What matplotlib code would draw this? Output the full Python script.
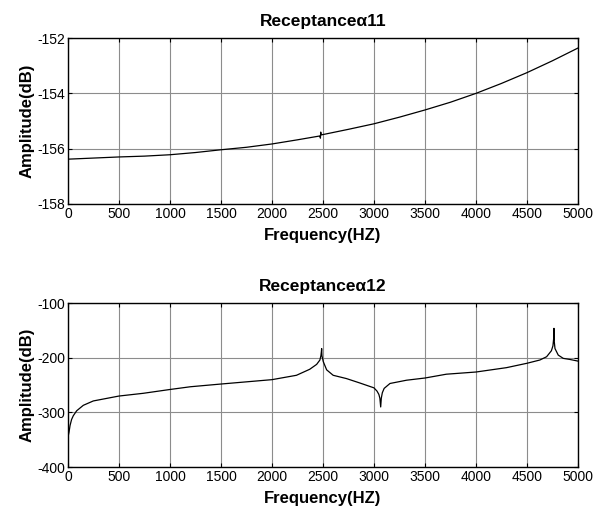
import numpy as np
import matplotlib
matplotlib.use("Agg")
import matplotlib.pyplot as plt

plt.rcParams['font.family'] = ['Liberation Sans', 'DejaVu Sans']
plt.rcParams['axes.unicode_minus'] = False

# receptance alpha11
f11 = [0, 250, 500, 750, 1000, 1250, 1500, 1750, 2000, 2250, 2470, 2475, 2478, 2482,
       2500, 2750, 3000, 3250, 3500, 3750, 4000, 4250, 4500, 4750, 5000]
a11 = [-156.38, -156.34, -156.30, -156.27, -156.22, -156.14, -156.04, -155.95, -155.83,
       -155.68, -155.54, -155.62, -155.40, -155.50, -155.49, -155.30, -155.10, -154.86,
       -154.60, -154.32, -154.00, -153.64, -153.25, -152.82, -152.36]

# receptance alpha12
f12 = [0, 10, 20, 35, 52, 85, 150, 248, 500, 738, 1000, 1200, 1500, 1750, 2000, 2240,
       2370, 2438, 2470, 2480, 2485, 2487, 2490, 2503, 2536, 2600, 2730, 2860, 3000,
       3030, 3048, 3058, 3066, 3072, 3082, 3100, 3157, 3320, 3500, 3710, 4000, 4300,
       4500, 4627, 4693, 4740, 4755, 4762, 4765, 4768, 4775, 4807, 4856, 4922, 5000]
a12 = [-345, -336, -324, -313, -306, -297, -287, -279, -270, -265, -258, -253, -248,
       -244, -240, -232, -221, -212, -204, -196, -188, -183, -196, -207, -222, -232,
       -238, -246, -255, -261, -267, -274, -290, -274, -264, -256, -247, -241, -237,
       -230, -226, -218, -210, -204, -198, -187, -178, -165, -146, -170, -183, -195,
       -201, -203, -206]

fig = plt.figure(figsize=(5.95, 5.15), dpi=100)
ax1 = fig.add_axes([0.1143, 0.604, 0.857, 0.322])
ax2 = fig.add_axes([0.1143, 0.0932, 0.857, 0.318])

ax1.plot(f11, a11, color='k', lw=0.9)
ax1.set_ylim(-158, -152)
ax1.set_yticks(np.arange(-158, -151, 2))
ax1.set_title('Receptanceα11', fontsize=12.5, fontweight='bold', pad=9)

ax2.plot(f12, a12, color='k', lw=0.9)
ax2.set_ylim(-400, -100)
ax2.set_yticks(np.arange(-400, -99, 100))
ax2.set_title('Receptanceα12', fontsize=12.5, fontweight='bold', pad=9)

for ax in (ax1, ax2):
    ax.set_xlim(0, 5000)
    ax.set_xticks(np.arange(0, 5001, 500))
    ax.grid(True, color='#8c8c8c', lw=0.8)
    ax.tick_params(direction='in', top=True, right=True, length=3,
                   labelsize=10, pad=2)
    ax.set_xlabel('Frequency(HZ)', fontsize=12, fontweight='bold', labelpad=5)
    ax.set_ylabel('Amplitude(dB)', fontsize=12, fontweight='bold', labelpad=2)
    for s in ax.spines.values():
        s.set_linewidth(1.0)

fig.savefig('out.png', dpi=100)
